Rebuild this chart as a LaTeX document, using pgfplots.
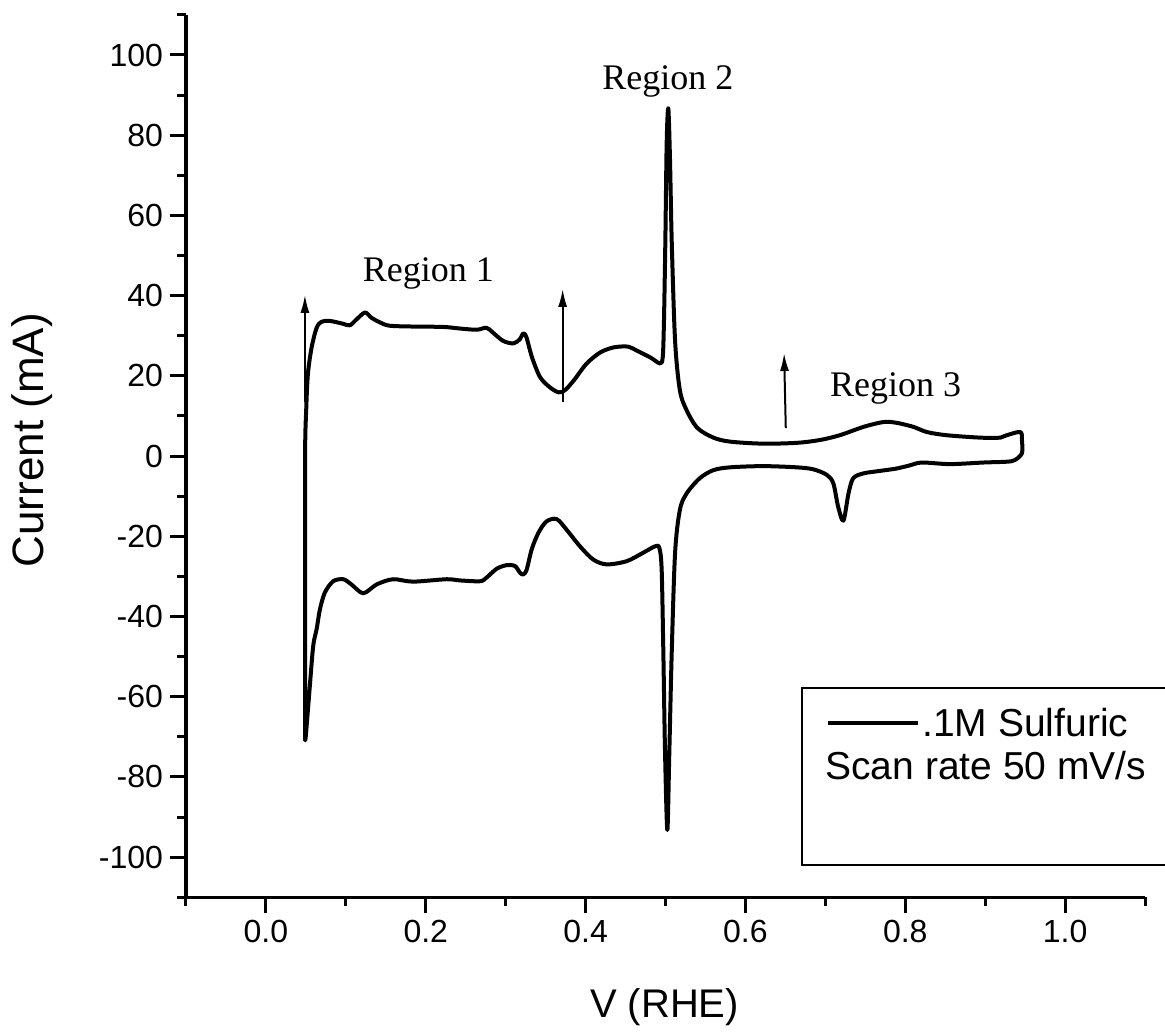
\documentclass[border=0pt]{standalone}
\usepackage{fontspec}
\setmainfont{Liberation Sans}
\newfontfamily\timesfont{Liberation Serif}
\usepackage{pgfplots}
\pgfplotsset{compat=1.18}
\usetikzlibrary{arrows.meta}

% cyclic voltammogram, 0.1 M H2SO4
\pgfplotstableread{
x y
0.049 -70.7
0.049 -40.0
0.049 0.0
0.0505 12.0
0.0526 20.6
0.0572 27.1
0.0635 32.0
0.0697 33.5
0.080 33.7
0.0964 33.0
0.105 32.6
0.1135 34.1
0.124 35.8
0.132 34.5
0.143 33.3
0.155 32.5
0.184 32.3
0.222 32.2
0.243 31.8
0.264 31.5
0.276 32.0
0.284 30.8
0.297 28.7
0.310 28.1
0.318 29.2
0.322 30.6
0.326 29.6
0.333 24.6
0.343 19.7
0.355 17.2
0.366 15.9
0.374 16.4
0.385 18.8
0.401 23.0
0.418 25.8
0.435 27.1
0.453 27.3
0.464 26.3
0.481 24.6
0.493 23.1
0.4965 24.6
0.498 32.9
0.4998 53.5
0.5015 78.3
0.5035 86.7
0.5056 74.2
0.5078 53.5
0.512 28.7
0.518 16.4
0.5265 11.4
0.540 7.0
0.560 4.6
0.581 3.6
0.622 3.1
0.664 3.3
0.693 4.0
0.718 5.2
0.748 7.3
0.773 8.5
0.789 8.3
0.810 7.3
0.827 6.0
0.852 5.2
0.894 4.6
0.919 4.6
0.927 5.2
0.944 6.0
0.946 4.0
0.946 0.7
0.937 -1.0
0.927 -1.4
0.898 -1.6
0.856 -2.0
0.821 -1.6
0.806 -2.3
0.789 -3.1
0.768 -3.7
0.748 -4.3
0.735 -5.5
0.729 -9.3
0.7226 -16.1
0.716 -12.6
0.710 -6.8
0.702 -4.7
0.685 -3.3
0.664 -2.8
0.622 -2.5
0.581 -2.8
0.560 -3.5
0.543 -5.5
0.5265 -9.3
0.518 -13.4
0.512 -24.1
0.5078 -48.9
0.5048 -73.7
0.5023 -93.2
0.4994 -73.7
0.4973 -48.9
0.4952 -28.3
0.4923 -22.9
0.4869 -22.5
0.472 -24.1
0.4514 -26.2
0.4264 -27.0
0.4096 -25.8
0.393 -22.5
0.376 -18.3
0.3638 -15.7
0.351 -16.3
0.3408 -19.2
0.3325 -23.3
0.3263 -28.3
0.322 -29.5
0.318 -29.1
0.3116 -27.4
0.301 -27.2
0.2887 -28.1
0.276 -30.3
0.268 -31.2
0.243 -31.0
0.226 -30.7
0.184 -31.3
0.159 -30.7
0.1385 -32.0
0.1218 -34.2
0.107 -32.0
0.0968 -30.7
0.0842 -31.2
0.0738 -34.0
0.0676 -38.2
0.0635 -43.1
0.0592 -47.3
0.055 -57.2
0.050 -69.6
0.049 -70.7
}\cvdata

\begin{document}
\begin{tikzpicture}
\begin{axis}[
  at={(0,0)}, anchor=south west,
  scale only axis, width=479.5pt, height=441.2pt,
  xmin=-0.1, xmax=1.1, ymin=-110, ymax=110,
  axis lines*=left, clip=false,
  axis line style={line width=1.6pt},
  tick align=outside,
  major tick length=8pt, minor tick length=4.5pt,
  every tick/.style={black, line width=1.5pt},
  xtick={0,0.2,0.4,0.6,0.8,1.0},
  minor xtick={-0.1,0.1,0.3,0.5,0.7,0.9,1.1},
  ytick={-100,-80,-60,-40,-20,0,20,40,60,80,100},
  minor ytick={-110,-90,-70,-50,-30,-10,10,30,50,70,90,110},
  /pgf/number format/assume math mode=true,
  xticklabel style={font=\fontsize{16}{19}\selectfont,
    /pgf/number format/.cd, fixed, fixed zerofill, precision=1},
  yticklabel style={font=\fontsize{16}{19}\selectfont},
  xlabel={V (RHE)}, ylabel={Current (mA)},
  xlabel style={font=\fontsize{20}{24}\selectfont,
    at={(axis description cs:0.499,-0.1243)}, anchor=center},
  ylabel style={font=\fontsize{22}{26}\selectfont,
    at={(axis description cs:-0.1606,0.518)}, anchor=center, rotate=0},
]
\addplot[black, line width=2pt, line join=round, smooth, tension=0.5] table[x=x, y=y] {\cvdata};

% region arrows
\addplot[black, line width=1pt, -{Latex[length=9pt,width=4.5pt]}] coordinates {(0.0488,13.5) (0.0488,40.2)};
\addplot[black, line width=1pt, -{Latex[length=9pt,width=4.5pt]}] coordinates {(0.3713,13.5) (0.3713,41.7)};
\addplot[black, line width=1pt, -{Latex[length=9pt,width=4.5pt]}] coordinates {(0.6505,7.0) (0.6484,25.7)};

\node[anchor=base, font=\timesfont\fontsize{18}{21}\selectfont] at (axis cs:0.2034,43.5) {Region 1};
\node[anchor=base, font=\timesfont\fontsize{18}{21}\selectfont] at (axis cs:0.5031,91.3) {Region 2};
\node[anchor=base, font=\timesfont\fontsize{18}{21}\selectfont] at (axis cs:0.788,14.8) {Region 3};

% legend box
\draw[black, line width=0.85pt] (axis cs:0.6708,-57.8) rectangle (axis cs:1.16,-101.9);
\draw[black, line width=2pt] (axis cs:0.7034,-66.5) -- (axis cs:0.816,-66.5);
\node[anchor=base west, inner sep=0pt, font=\fontsize{19.5}{23}\selectfont] at (axis cs:0.821,-70.0) {.1M Sulfuric};
\node[anchor=base west, inner sep=0pt, font=\fontsize{19.5}{23}\selectfont] at (axis cs:0.6996,-80.7) {Scan rate 50 mV/s};
\end{axis}
\pgfresetboundingbox
\useasboundingbox (-93pt,-67.35pt) rectangle (489.5pt,448.65pt);
\end{tikzpicture}
\end{document}
